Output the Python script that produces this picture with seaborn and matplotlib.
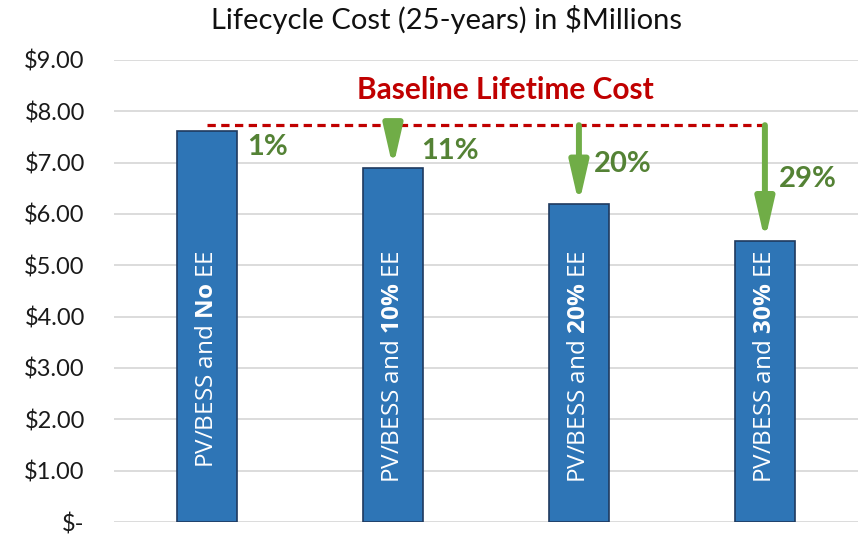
import seaborn as sns
import matplotlib.pyplot as plt
from matplotlib.ticker import FuncFormatter

# data ($ millions)
scenarios = ["PV/BESS and No EE", "PV/BESS and 10% EE", "PV/BESS and 20% EE", "PV/BESS and 30% EE"]
bold_parts = ["No", "10\\%", "20\\%", "30\\%"]
lifecycle_cost = [7.62, 6.90, 6.19, 5.48]
baseline_cost = 7.73
savings = ["1%", "11%", "20%", "29%"]

sns.set_theme(style="white")
plt.rcParams['font.family'] = ['Lato', 'DejaVu Sans']
plt.rcParams['mathtext.fontset'] = 'custom'
plt.rcParams['mathtext.rm'] = 'Open Sans'
plt.rcParams['mathtext.bf'] = 'Open Sans:bold'

fig = plt.figure(figsize=(8.59, 5.36), dpi=100)
ax = fig.add_axes([0.1327, 0.0261, 0.866, 0.862])

sns.barplot(x=scenarios, y=lifecycle_cost, ax=ax, color='#2E75B6', saturation=1,
            width=0.32, edgecolor='#1F3A5F', linewidth=1.2, zorder=3)

ax.set_ylim(0, 9)
ax.set_xlim(-0.5, 3.5)
ax.set_yticks(range(0, 10))
ax.yaxis.set_major_formatter(FuncFormatter(lambda v, p: '\\$-' if v == 0 else f'\\${v:.2f}'))
ax.set_xticks([])
ax.set_xlabel('')
for side in ['left', 'right', 'top', 'bottom']:
    ax.spines[side].set_visible(False)
ax.tick_params(axis='y', labelsize=17, length=0, pad=21, colors='#1a1a1a')
ax.grid(axis='y', color='#D9D9D9', linewidth=1.3, zorder=0)

# labels inside bars
for i, (name, b) in enumerate(zip(scenarios, bold_parts)):
    rest = name.split(' ')[-1]
    txt = "PV/BESS and $\\mathbf{" + b + "}$ " + rest
    ax.text(i, 5.3, txt, rotation=90, ha='center', va='top', color='white',
            fontsize=17.5, family='Open Sans', zorder=5)

# baseline dashed line
ax.plot([0, len(scenarios) - 1], [baseline_cost, baseline_cost], color='#C00000',
        lw=2.3, ls=(0, (2.6, 1.7)), zorder=4)
ax.text(1.607, 8.42, 'Baseline Lifetime Cost', color='#C00000', fontsize=21.5,
        fontweight='bold', ha='center', va='center')

# arrows from baseline down to each bar
for i in range(1, len(scenarios)):
    ax.annotate('', xy=(i, lifecycle_cost[i]), xytext=(i, baseline_cost),
                arrowprops=dict(arrowstyle='-|>,head_length=2.4,head_width=0.55',
                                mutation_scale=10, color='#70AD47', lw=4.3,
                                shrinkA=0, shrinkB=0), zorder=4)

label_dx = [0.215, 0.15, 0.08, 0.075]
label_y = [7.31, 7.23, 6.98, 6.69]
for i, s in enumerate(savings):
    ax.text(i + label_dx[i], label_y[i], s, color='#548235', fontsize=21,
            fontweight='bold', ha='left', va='center')

fig.text(447 / 859, 1 - 19 / 536, 'Lifecycle Cost (25-years) in \\$Millions',
         ha='center', va='center', fontsize=21, color='#111111')

fig.savefig('out.png', dpi=100)
